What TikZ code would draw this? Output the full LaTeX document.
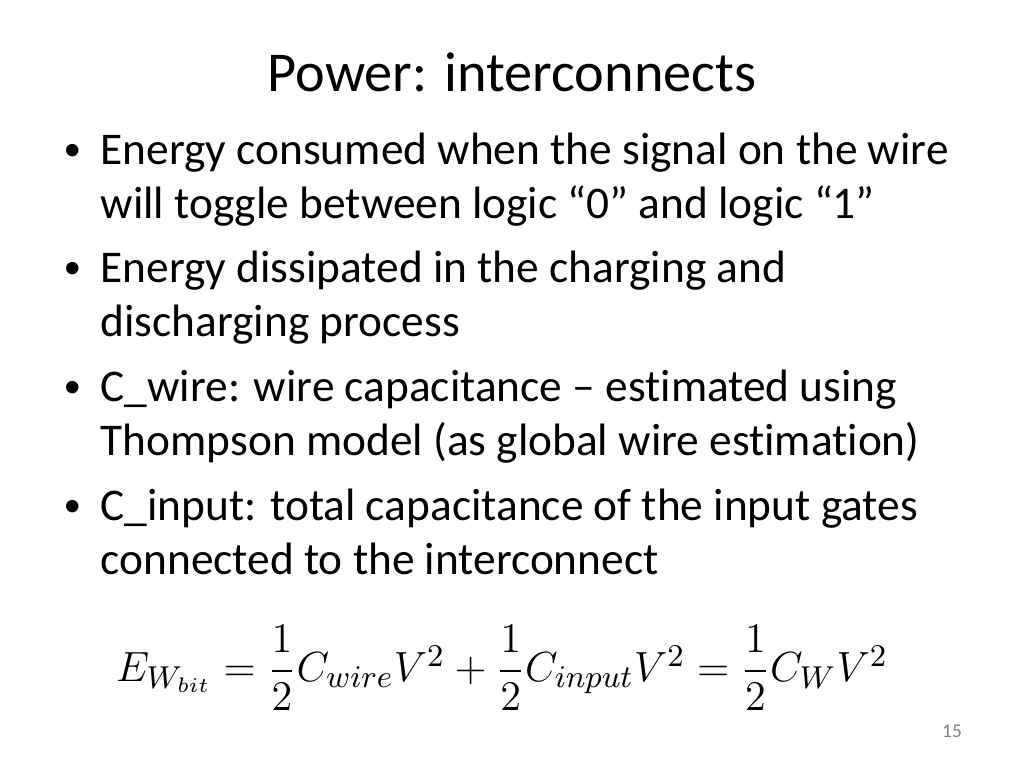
\documentclass[tikz,border=0pt]{standalone}
\usepackage{amsmath}
\usepackage{fontspec}
\setmainfont[Ligatures={NoCommon}]{Carlito}
\begin{document}
\begin{tikzpicture}[x=0.01cm,y=-0.01cm,
    bodytext/.style={anchor=base west,inner sep=0pt,font=\fontsize{12.9}{15.6}\selectfont},
    bulletdot/.style={anchor=base west,inner sep=0pt,font=\fontsize{10}{12}\selectfont}]
  \useasboundingbox (0,0) rectangle (1024,768);
  % title
  \node[anchor=base,inner sep=0pt,font=\fontsize{16}{20}\selectfont] (title) at (512,92) {Power: interconnects};
  % bullets
  \foreach \yy/\first/\second [count=\i] in {
      165/{Energy consumed when the signal on the wire}/{will toggle between logic “0” and logic “1”},
      283/{Energy dissipated in the charging and}/{discharging process},
      402/{C\_wire: wire capacitance – estimated using}/{Thompson model (as global wire estimation)},
      521/{C\_input: total capacitance of the input gates}/{connected to the interconnect}}{
    \node[bulletdot] (dot\i) at (63,\yy-4) {•};
    \node[bodytext] (line\i a) at (100,\yy) {\first};
    \node[bodytext] (line\i b) at (100,\yy+54) {\second};
  }
  % formula
  \node[anchor=center,inner sep=0pt,font=\fontsize{12.25}{15}\selectfont] (energy) at (502,668)
    {$E_{W_{bit}}=\dfrac{1}{2}C_{wire}V^2+\dfrac{1}{2}C_{input}V^2=\dfrac{1}{2}C_{W}V^2$};
  % page number
  \node[anchor=base,inner sep=0pt,text=gray,font=\fontsize{5.5}{6}\selectfont] (pagenum) at (952,738) {15};
\end{tikzpicture}
\end{document}
